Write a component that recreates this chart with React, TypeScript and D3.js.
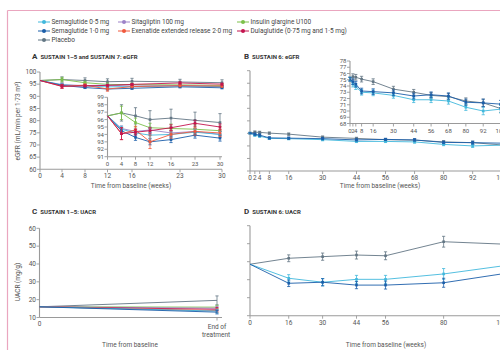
import * as React from "react";
import * as d3 from "d3";

const W = 500;
const H = 350;

const cSema05 = "#41b8dc";
const cSema10 = "#1b5ea9";
const cPlacebo = "#637684";
const cSita = "#9d82c8";
const cExen = "#f0583c";
const cGlar = "#7cc04a";
const cDula = "#c4144e";

// ---- Panel A: SUSTAIN 1-5 and 7, eGFR ----
const weeksA = [0, 4, 8, 12, 16, 23, 30];
const placeboA = [96.5, 96.9, 96.5, 96.0, 96.2, 95.9, 95.6];
const placeboAErr = [0, 1.1, 1.1, 1.2, 1.2, 1.1, 1.2];
const glargineA = [96.5, 96.9, 95.6, 94.9, 94.8, 94.7, 94.5];
const glargineAErr = [0, 0.9, 0.6, 0.6, 0.6, 0.6, 0.6];
const sema05A = [96.5, 94.7, 94.2, 93.9, 94.0, 94.3, 94.0];
const sema05AErr = [0, 0.4, 0.4, 0.4, 0.4, 0.4, 0.4];
const sema10A = [96.5, 94.5, 93.6, 93.0, 93.3, 93.9, 93.5];
const sema10AErr = [0, 0.4, 0.4, 0.4, 0.4, 0.4, 0.4];
const sitaA = [96.5, 94.8, 94.4, 94.6, 94.2, 94.4, 94.0];
const sitaAErr = [0, 0.35, 0.35, 0.35, 0.35, 0.35, 0.35];
const exenA = [96.5, 94.1, 94.6, 93.0, 94.0, 94.4, 94.2];
const exenAErr = [0, 0.8, 0.5, 0.9, 0.5, 0.5, 0.5];
const dulaA = [96.5, 94.1, 94.3, 94.5, 94.9, 95.5, 95.0];
const dulaAErr = [0, 0.8, 0.4, 0.4, 0.4, 0.4, 0.4];
const yTicksA = [60, 65, 70, 75, 80, 85, 90, 95, 100];
const yTicksAInset = [91, 92, 93, 94, 95, 96, 97, 98, 99];

// ---- Panel B: SUSTAIN 6, eGFR ----
const weeksB = [0, 2, 4, 8, 16, 30, 44, 56, 68, 80, 92, 104];
const placeboB = [75.1, 75.5, 75.4, 75.1, 74.7, 73.5, 73.0, 72.5, 72.3, 71.6, 71.3, 70.4];
const sema10B = [75.1, 74.7, 74.3, 73.2, 73.1, 72.9, 72.4, 72.6, 72.4, 71.4, 71.3, 71.1];
const sema05B = [75.1, 74.3, 73.9, 73.0, 72.9, 72.5, 71.8, 71.8, 71.6, 70.6, 70.0, 70.3];
const errB = [0.3, 0.45, 0.45, 0.45, 0.45, 0.45, 0.45, 0.45, 0.5, 0.5, 0.6, 0.6];
const yTicksB = [60, 65, 70, 75, 80, 85, 90, 95, 100];
const yTicksBInset = [68, 69, 70, 71, 72, 73, 74, 75, 76, 77, 78];

// ---- Panel C: SUSTAIN 1-5, UACR ----
const stepsC = [0, 1];
const placeboC = [16, 19.6];
const glargineC = [16, 15.8];
const sitaC = [16, 15.2];
const dulaC = [16, 14.6];
const exenC = [16, 13.9];
const sema05C = [16, 13.6];
const sema10C = [16, 13.0];
const errC = [0, 1.0];
const placeboCErr = [0, 2.5];
const yTicksC = [10, 20, 30, 40, 50, 60];

// ---- Panel D: SUSTAIN 6, UACR ----
const weeksD = [0, 16, 30, 44, 56, 80, 104];
const placeboD = [38.6, 41.9, 42.8, 43.7, 43.3, 51.1, 49.8];
const placeboDErr = [0, 1.9, 2.0, 2.2, 2.2, 3.0, 3.0];
const sema05D = [38.6, 30.8, 28.6, 30.2, 30.2, 33.2, 37.6];
const sema05DErr = [0, 2.0, 2.0, 2.2, 2.2, 3.0, 3.0];
const sema10D = [38.6, 28.0, 28.6, 27.0, 27.0, 28.3, 33.2];
const sema10DErr = [0, 1.8, 2.0, 2.0, 2.2, 2.5, 2.5];
const yTicksD = [10, 20, 30, 40, 50, 60];

const legendRows = [
  [
    { label: "Semaglutide 0·5 mg", color: cSema05 },
    { label: "Sitagliptin 100 mg", color: cSita },
    { label: "Insulin glargine U100", color: cGlar },
  ],
  [
    { label: "Semaglutide 1·0 mg", color: cSema10 },
    { label: "Exenatide extended release 2·0 mg", color: cExen },
    { label: "Dulaglutide (0·75 mg and 1·5 mg)", color: cDula },
  ],
  [{ label: "Placebo", color: cPlacebo }],
];

type Series = { color: string; values: number[]; errors: number[] };

const seriesA: Series[] = [
  { color: cPlacebo, values: placeboA, errors: placeboAErr },
  { color: cGlar, values: glargineA, errors: glargineAErr },
  { color: cSita, values: sitaA, errors: sitaAErr },
  { color: cSema05, values: sema05A, errors: sema05AErr },
  { color: cSema10, values: sema10A, errors: sema10AErr },
  { color: cExen, values: exenA, errors: exenAErr },
  { color: cDula, values: dulaA, errors: dulaAErr },
];
const seriesB: Series[] = [
  { color: cPlacebo, values: placeboB, errors: errB },
  { color: cSema05, values: sema05B, errors: errB },
  { color: cSema10, values: sema10B, errors: errB },
];
const seriesC: Series[] = [
  { color: cPlacebo, values: placeboC, errors: placeboCErr },
  { color: cGlar, values: glargineC, errors: errC },
  { color: cSita, values: sitaC, errors: errC },
  { color: cDula, values: dulaC, errors: errC },
  { color: cExen, values: exenC, errors: errC },
  { color: cSema05, values: sema05C, errors: errC },
  { color: cSema10, values: sema10C, errors: errC },
];
const seriesD: Series[] = [
  { color: cPlacebo, values: placeboD, errors: placeboDErr },
  { color: cSema05, values: sema05D, errors: sema05DErr },
  { color: cSema10, values: sema10D, errors: sema10DErr },
];

const FONT = "Roboto, 'DejaVu Sans', sans-serif";
const AXIS = "#9a9a9a";
const TXT = "#555";

type Scale = (v: number) => number;

const Lines = ({
  xs,
  series,
  x,
  y,
  cap = 1.6,
  marker = 2.6,
}: {
  xs: number[];
  series: Series[];
  x: Scale;
  y: Scale;
  cap?: number;
  marker?: number;
}) => (
  <g>
    {series.map((s, si) => {
      const line = d3
        .line<number>()
        .x((_, i) => x(xs[i]))
        .y((d) => y(d));
      return (
        <g key={si}>
          <path d={line(s.values) || ""} fill="none" stroke={s.color} strokeWidth={0.9} />
          {s.values.map((v, i) => {
            const e = s.errors[i];
            const cx = x(xs[i]);
            return (
              <g key={i}>
                {e > 0 && (
                  <g stroke={s.color} strokeWidth={0.8}>
                    <line x1={cx} x2={cx} y1={y(v - e)} y2={y(v + e)} />
                    <line x1={cx - cap} x2={cx + cap} y1={y(v + e)} y2={y(v + e)} />
                    <line x1={cx - cap} x2={cx + cap} y1={y(v - e)} y2={y(v - e)} />
                  </g>
                )}
                {i > 0 && (
                  <rect
                    x={cx - marker / 2}
                    y={y(v) - marker / 2}
                    width={marker}
                    height={marker}
                    fill={s.color}
                  />
                )}
              </g>
            );
          })}
        </g>
      );
    })}
  </g>
);

const YAxis = ({
  x0,
  y,
  ticks,
  labels = true,
  fontSize = 6.5,
}: {
  x0: number;
  y: d3.ScaleLinear<number, number>;
  ticks: number[];
  labels?: boolean;
  fontSize?: number;
}) => {
  const [a, b] = d3.extent(ticks) as [number, number];
  return (
    <g>
      <line x1={x0} x2={x0} y1={y(a)} y2={y(b)} stroke={AXIS} strokeWidth={1.1} />
      {ticks.map((t) => (
        <g key={t}>
          <line x1={x0 - 3} x2={x0} y1={y(t)} y2={y(t)} stroke={AXIS} strokeWidth={0.9} />
          {labels && (
            <text
              x={x0 - 3.5}
              y={y(t)}
              dy="0.35em"
              textAnchor="end"
              fontSize={fontSize}
              fill={TXT}
              fontFamily={FONT}
            >
              {t}
            </text>
          )}
        </g>
      ))}
    </g>
  );
};

const XAxis = ({
  y0,
  x,
  ticks,
  x1,
  x2,
  fontSize = 6.5,
}: {
  y0: number;
  x: Scale;
  ticks: number[];
  x1: number;
  x2: number;
  fontSize?: number;
}) => (
  <g>
    <line x1={x1} x2={x2} y1={y0} y2={y0} stroke={AXIS} strokeWidth={1.1} />
    {ticks.map((t) => (
      <g key={t}>
        <line x1={x(t)} x2={x(t)} y1={y0} y2={y0 + 3} stroke={AXIS} strokeWidth={0.9} />
        <text
          x={x(t)}
          y={y0 + 9}
          textAnchor="middle"
          fontSize={fontSize}
          fill={TXT}
          fontFamily={FONT}
        >
          {t}
        </text>
      </g>
    ))}
  </g>
);

const Title = ({ x, y, letter, text }: { x: number; y: number; letter: string; text: string }) => (
  <text x={x} y={y} fontFamily={FONT} fill="#333">
    <tspan fontSize={8} fontWeight="bold">
      {letter}
    </tspan>
    <tspan dx={3} fontSize={6} fontWeight="bold">
      {text}
    </tspan>
  </text>
);

export default function App() {
  // panel A
  const xA = d3.scaleLinear().domain(weeksA).range([40, 62, 85, 107.5, 132, 180, 222]);
  const yA = d3.scaleLinear().domain([60, 100]).range([169.3, 72]);
  const xAi = d3.scaleLinear().domain(weeksA).range([107.5, 121.5, 135.5, 150, 171, 195, 220]);
  const yAi = d3.scaleLinear().domain([91, 99]).range([156.7, 97.3]);

  // panel B
  const xB = d3.scaleLinear().domain([0, 104]).range([250, 501.7]);
  const yB = d3.scaleLinear().domain([60, 100]).range([171, 70.7]);
  const xBi = d3.scaleLinear().domain([0, 104]).range([350, 500.6]);
  const yBi = d3.scaleLinear().domain([68, 78]).range([123.5, 61]);

  // panel C
  const xC = d3.scaleLinear().domain([0, 1]).range([39.5, 217]);
  const yC = d3.scaleLinear().domain([10, 60]).range([317.5, 228.3]);

  // panel D
  const xD = d3.scaleLinear().domain([0, 104]).range([250, 501.7]);
  const yD = d3.scaleLinear().domain([10, 60]).range([315.7, 225.7]);

  const legendX = [44, 124, 243];
  const legendY = [22, 31, 40];

  return (
    <svg
      width={W}
      height={H}
      viewBox={`0 0 ${W} ${H}`}
      style={{ position: "absolute", left: 0, top: 0, background: "#fff" }}
    >
      <rect width={W} height={H} fill="#fff" />
      {/* pink frame */}
      <line x1={7.5} x2={7.5} y1={10.5} y2={H} stroke="#eaa6bf" strokeWidth={1.2} />
      <line x1={7.5} x2={W} y1={10.5} y2={10.5} stroke="#eaa6bf" strokeWidth={1.2} />

      {/* legend */}
      {legendRows.map((row, ri) =>
        row.map((item, ci) => (
          <g key={`${ri}-${ci}`}>
            <line
              x1={legendX[ci] - 6}
              x2={legendX[ci] + 6}
              y1={legendY[ri]}
              y2={legendY[ri]}
              stroke={item.color}
              strokeWidth={1}
            />
            <circle cx={legendX[ci]} cy={legendY[ri]} r={2} fill={item.color} />
            <text
              x={legendX[ci] + 7.5}
              y={legendY[ri]}
              dy="0.35em"
              fontSize={6.5}
              fill="#444"
              fontFamily={FONT}
            >
              {item.label}
            </text>
          </g>
        ))
      )}

      {/* Panel A */}
      <Title x={32} y={59} letter="A" text="SUSTAIN 1–5 and SUSTAIN 7: eGFR" />
      <YAxis x0={40} y={yA} ticks={yTicksA} />
      <XAxis y0={169.3} x={xA} ticks={weeksA} x1={40} x2={222} />
      <text
        transform={`translate(20,121) rotate(-90)`}
        textAnchor="middle"
        fontSize={6.5}
        fill={TXT}
        fontFamily={FONT}
      >
        eGFR (mL/min per 1·73 m²)
      </text>
      <text x={131} y={188} textAnchor="middle" fontSize={6.5} fill={TXT} fontFamily={FONT}>
        Time from baseline (weeks)
      </text>
      <Lines xs={weeksA} series={seriesA} x={xA} y={yA} />
      <YAxis x0={107.5} y={yAi} ticks={yTicksAInset} fontSize={6} />
      <XAxis y0={156.7} x={xAi} ticks={weeksA} x1={107.5} x2={222} fontSize={6} />
      <Lines xs={weeksA} series={seriesA} x={xAi} y={yAi} />

      {/* Panel B */}
      <Title x={244} y={59} letter="B" text="SUSTAIN 6: eGFR" />
      <YAxis x0={250} y={yB} ticks={yTicksB} labels={false} />
      <XAxis y0={171} x={xB} ticks={weeksB} x1={250} x2={W} />
      <text x={380} y={188} textAnchor="middle" fontSize={6.5} fill={TXT} fontFamily={FONT}>
        Time from baseline (weeks)
      </text>
      <Lines xs={weeksB} series={seriesB} x={xB} y={yB} />
      <YAxis x0={350} y={yBi} ticks={yTicksBInset} fontSize={6} />
      <XAxis y0={123.5} x={xBi} ticks={weeksB} x1={350} x2={W} fontSize={6} />
      <Lines xs={weeksB} series={seriesB} x={xBi} y={yBi} />

      {/* Panel C */}
      <Title x={32} y={214} letter="C" text="SUSTAIN 1–5: UACR" />
      <YAxis x0={39.5} y={yC} ticks={yTicksC} />
      <line x1={39.5} x2={222} y1={yC(10)} y2={yC(10)} stroke={AXIS} strokeWidth={1.1} />
      <line x1={xC(1)} x2={xC(1)} y1={yC(10)} y2={yC(10) + 3} stroke={AXIS} strokeWidth={0.9} />
      <text x={xC(0)} y={yC(10) + 8} textAnchor="middle" fontSize={6.5} fill={TXT} fontFamily={FONT}>
        0
      </text>
      <text x={xC(1)} y={yC(10) + 11} textAnchor="middle" fontSize={6.5} fill={TXT} fontFamily={FONT}>
        End of
      </text>
      <text x={xC(1) - 1} y={yC(10) + 19.5} textAnchor="middle" fontSize={6.5} fill={TXT} fontFamily={FONT}>
        treatment
      </text>
      <text
        transform={`translate(20,282) rotate(-90)`}
        textAnchor="middle"
        fontSize={6.5}
        fill={TXT}
        fontFamily={FONT}
      >
        UACR (mg/g)
      </text>
      <text x={130} y={347} textAnchor="middle" fontSize={6.5} fill={TXT} fontFamily={FONT}>
        Time from baseline
      </text>
      <Lines xs={stepsC} series={seriesC} x={xC} y={yC} marker={0} />

      {/* Panel D */}
      <Title x={244} y={214} letter="D" text="SUSTAIN 6: UACR" />
      <YAxis x0={250} y={yD} ticks={yTicksD} labels={false} />
      <XAxis y0={315.7} x={xD} ticks={weeksD} x1={250} x2={W} />
      <text x={386} y={347} textAnchor="middle" fontSize={6.5} fill={TXT} fontFamily={FONT}>
        Time from baseline (weeks)
      </text>
      <Lines xs={weeksD} series={seriesD} x={xD} y={yD} />
    </svg>
  );
}
